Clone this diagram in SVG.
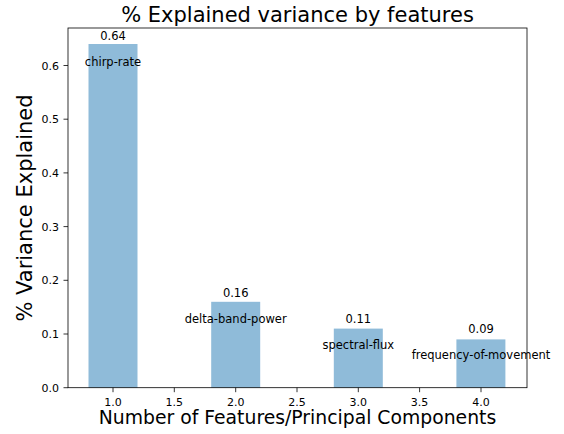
<svg xmlns="http://www.w3.org/2000/svg" width="564" height="434" viewBox="0 0 564 434">
<style>
text{font-family:"DejaVu Sans",sans-serif;fill:#000}
.tk{font-size:11px}
.yt{text-anchor:end}
.xt{text-anchor:middle}
.bar{fill:#8fbbd9}
.v{font-size:11.5px;text-anchor:middle}
.tick{stroke:#000;stroke-width:0.8}
</style>
<rect width="564" height="434" fill="#fff"/>
<g id="bars">
<rect id="bar1" class="bar" x="88.5" y="44" width="49" height="343.7"/>
<rect id="bar2" class="bar" x="211.2" y="301.8" width="49" height="85.9"/>
<rect id="bar3" class="bar" x="333.8" y="328.6" width="49" height="59.1"/>
<rect id="bar4" class="bar" x="456.4" y="339.4" width="49" height="48.3"/>
</g>
<g id="labels">
<text class="v" x="113" y="39.5">0.64</text>
<text class="v" x="113" y="65.5">chirp-rate</text>
<text class="v" x="235.7" y="296.5">0.16</text>
<text class="v" x="235.7" y="322.5">delta-band-power</text>
<text class="v" x="358.3" y="322.5">0.11</text>
<text class="v" x="358.3" y="348.5">spectral-flux</text>
<text class="v" x="481" y="333">0.09</text>
<text class="v" x="481" y="359">frequency-of-movement</text>
</g>
<g id="axes">
<rect x="68" y="28" width="459" height="359.7" fill="none" stroke="#000" stroke-width="0.8"/>
<g class="tick">
<line x1="63.5" y1="387.7" x2="68" y2="387.7"/>
<line x1="63.5" y1="334" x2="68" y2="334"/>
<line x1="63.5" y1="280.3" x2="68" y2="280.3"/>
<line x1="63.5" y1="226.6" x2="68" y2="226.6"/>
<line x1="63.5" y1="172.9" x2="68" y2="172.9"/>
<line x1="63.5" y1="119.2" x2="68" y2="119.2"/>
<line x1="63.5" y1="65.5" x2="68" y2="65.5"/>
<line x1="113" y1="387.7" x2="113" y2="392.2"/>
<line x1="174.3" y1="387.7" x2="174.3" y2="392.2"/>
<line x1="235.7" y1="387.7" x2="235.7" y2="392.2"/>
<line x1="297" y1="387.7" x2="297" y2="392.2"/>
<line x1="358.3" y1="387.7" x2="358.3" y2="392.2"/>
<line x1="419.6" y1="387.7" x2="419.6" y2="392.2"/>
<line x1="481" y1="387.7" x2="481" y2="392.2"/>
</g>
<g class="tk yt">
<text x="59" y="391.7">0.0</text>
<text x="59" y="338">0.1</text>
<text x="59" y="284.3">0.2</text>
<text x="59" y="230.6">0.3</text>
<text x="59" y="176.9">0.4</text>
<text x="59" y="123.2">0.5</text>
<text x="59" y="69.5">0.6</text>
</g>
<g class="tk xt">
<text x="113" y="405.5">1.0</text>
<text x="174.3" y="405.5">1.5</text>
<text x="235.7" y="405.5">2.0</text>
<text x="297" y="405.5">2.5</text>
<text x="358.3" y="405.5">3.0</text>
<text x="419.6" y="405.5">3.5</text>
<text x="481" y="405.5">4.0</text>
</g>
<text x="297.5" y="424" font-size="18.8" text-anchor="middle">Number of Features/Principal Components</text>
<text transform="translate(32,208) rotate(-90)" font-size="21" text-anchor="middle">% Variance Explained</text>
<text x="297.5" y="22" font-size="21" text-anchor="middle">% Explained variance by features</text>
</g>
</svg>
